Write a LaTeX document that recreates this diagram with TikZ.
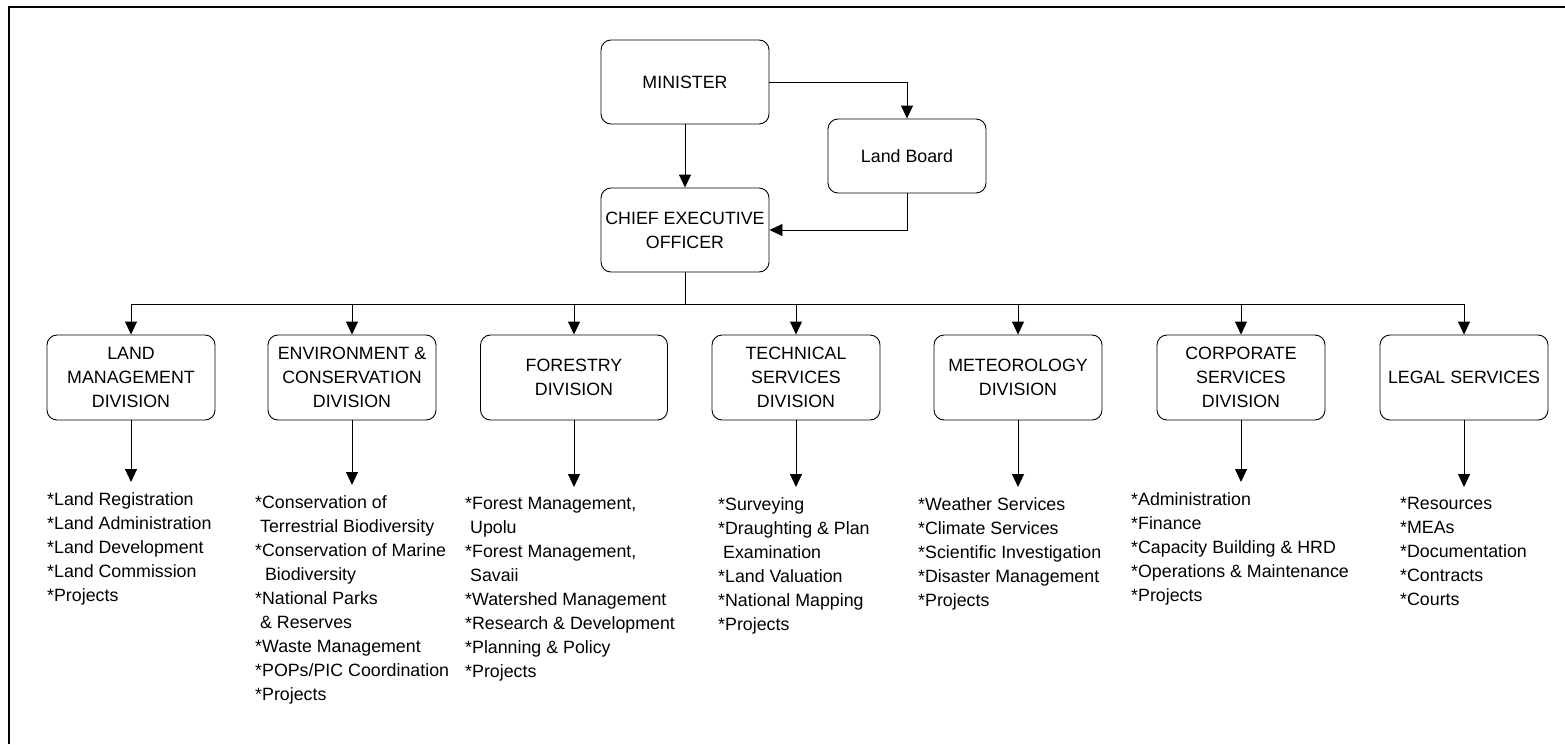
\documentclass[tikz,border=0pt]{standalone}
\usepackage{fontspec}
\setmainfont{Liberation Sans}
\usetikzlibrary{arrows.meta}
\tikzset{
  unit/.style={draw, rounded corners=10pt, minimum width=168pt, minimum height=85pt,
    align=center, line width=0.9pt},
  duties/.style={anchor=north west, inner sep=0pt, align=left},
  arr/.style={-{Triangle[width=12pt,length=13pt]}, line width=0.9pt},
}
\begin{document}
\begin{tikzpicture}[x=1pt,y=-1pt,font=\fontsize{17.8}{24}\selectfont]
    \useasboundingbox (0,0) rectangle (1565,744);
    \draw[line width=2pt] (9,744) -- (9,7) -- (1565,7);
    % top
    \node[unit, minimum height=84pt] (minister) at (685,82) {MINISTER};
    \node[unit, minimum width=158pt, minimum height=74pt] (board) at (907,156) {Land Board};
    \node[unit, minimum height=84pt] (ceo) at (685,230) {CHIEF EXECUTIVE\\OFFICER};
    \draw[arr] (minister) -- (ceo);
    \draw[arr] (minister.east) -| (board.north);
    \draw[arr] (board.south) |- (ceo.east);
    % divisions
    \node[unit] (land) at (131,377.5) {LAND\\MANAGEMENT\\DIVISION};
    \node[unit] (env) at (352,377.5) {ENVIRONMENT \&\\CONSERVATION\\DIVISION};
    \node[unit, minimum width=187pt] (forest) at (574,377.5) {FORESTRY\\DIVISION};
    \node[unit] (tech) at (796,377.5) {TECHNICAL\\SERVICES\\DIVISION};
    \node[unit] (met) at (1018,377.5) {METEOROLOGY\\DIVISION};
    \node[unit] (corp) at (1241,377.5) {CORPORATE\\SERVICES\\DIVISION};
    \node[unit] (legal) at (1464,377.5) {LEGAL SERVICES};
    \coordinate (bus) at (685,304);
    \draw[line width=0.9pt] (ceo) -- (bus);
    \draw[line width=0.9pt] (bus -| land) -- (bus -| legal);
    \foreach \d in {land,env,forest,tech,met,corp,legal}
      \draw[arr] (bus -| \d) -- (\d.north);
    % duties
    \node[duties] (landlist) at (47,492) {*Land Registration\\*Land Administration\\*Land Development\\*Land Commission\\*Projects};
    \node[duties] (envlist) at (255,495) {*Conservation of\\\ Terrestrial Biodiversity\\*Conservation of Marine\\\ \ Biodiversity\\*National Parks\\\ \& Reserves\\*Waste Management\\*POPs/PIC Coordination\\*Projects};
    \node[duties] (forestlist) at (465,497) {*Forest Management,\\\ Upolu\\*Forest Management,\\\ Savaii\\*Watershed Management\\*Research \& Development\\*Planning \& Policy\\*Projects};
    \node[duties] (techlist) at (718,497) {*Surveying\\*Draughting \& Plan\\\ Examination\\*Land Valuation\\*National Mapping\\*Projects};
    \node[duties] (metlist) at (918,497) {*Weather Services\\*Climate Services\\*Scientific Investigation\\*Disaster Management\\*Projects};
    \node[duties] (corplist) at (1131,492) {*Administration\\*Finance\\*Capacity Building \& HRD\\*Operations \& Maintenance\\*Projects};
    \node[duties] (legallist) at (1400,497) {*Resources\\*MEAs\\*Documentation\\*Contracts\\*Courts};
    \foreach \d in {land,env,forest,tech,met,corp,legal}
      \draw[arr, shorten >=10pt] (\d.south) -- (\d.south |- \d list.north);
\end{tikzpicture}
\end{document}
